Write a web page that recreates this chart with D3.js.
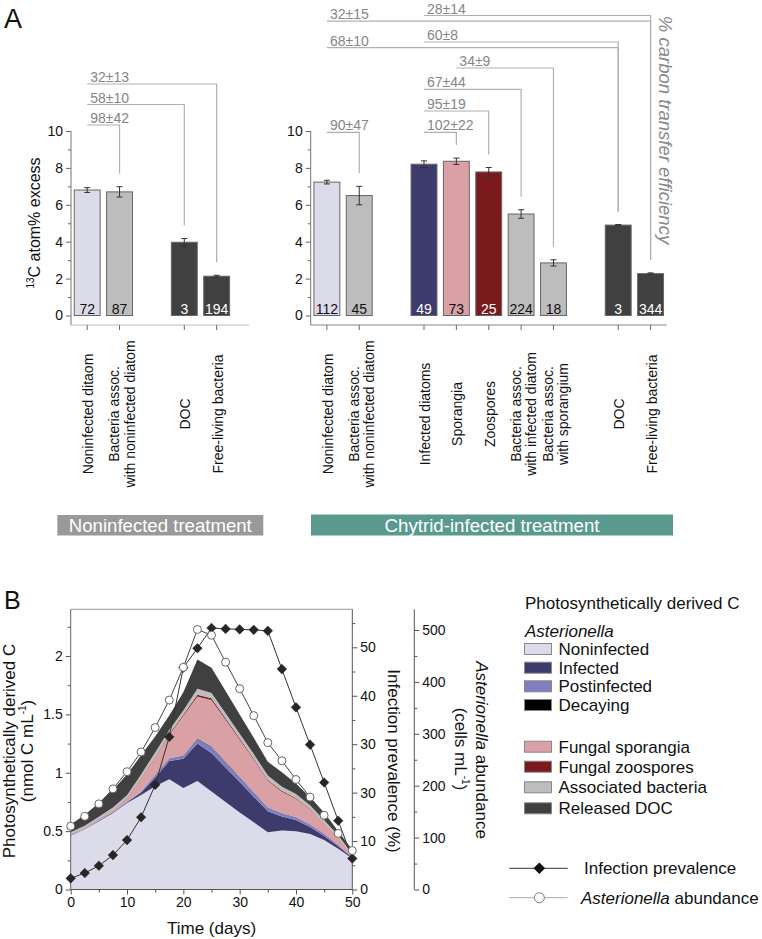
<!DOCTYPE html>
<html><head><meta charset="utf-8">
<script src="https://cdn.jsdelivr.net/npm/d3@7"></script>
<style>body{margin:0;background:#fff}svg{display:block}</style>
</head><body><svg id="c" width="762" height="939"></svg>
<script>
// ================= DATA =================
// Panel A – noninfected treatment
const ctrlCategories = ["Noninfected ditaom", "Bacteria assoc.|with noninfected diatom", "DOC", "Free-living bacteria"];
const ctrlGroups = [0, 0, 1, 1];
const ctrlValues = [6.8, 6.7, 3.97, 2.13];
const ctrlErrors = [0.13, 0.28, 0.2, 0.05];
const ctrlCounts = ["72", "87", "3", "194"];
const ctrlKinds = ["diatom", "bacteria", "doc", "doc"];
const ctrlBracketLabels = ["98±42", "58±10", "32±13"];
const ctrlBracketFrom = [0, 0, 0];
const ctrlBracketTo = [1, 2, 3];
const ctrlBracketTier = [0, 1, 2];

// Panel A – chytrid-infected treatment
const infCategories = ["Noninfected diatom", "Bacteria assoc.|with noninfected diatom", "Infected diatoms", "Sporangia", "Zoospores",
  "Bacteria assoc.|with infected diatom", "Bacteria assoc.|with sporangium", "DOC", "Free-living bacteria"];
const infGroups = [0, 0, 1, 1, 1, 1, 1, 2, 2];
const infValues = [7.23, 6.5, 8.2, 8.36, 7.78, 5.5, 2.85, 4.9, 2.27];
const infErrors = [0.1, 0.5, 0.18, 0.17, 0.24, 0.23, 0.17, 0.03, 0.04];
const infCounts = ["112", "45", "49", "73", "25", "224", "18", "3", "344"];
const infKinds = ["diatom", "bacteria", "infected", "sporangia", "zoospores", "bacteria", "bacteria", "doc", "doc"];
const infBracketLabels = ["90±47", "102±22", "95±19", "67±44", "34±9", "68±10", "60±8", "32±15", "28±14"];
const infBracketFrom = [0, 2, 2, 2, 3, 0, 2, 0, 2];
const infBracketTo = [1, 3, 4, 5, 6, 7, 7, 8, 8];
const infBracketTier = [0, 0, 1, 2, 3, 4, 4, 5, 5];

const aTicks = [0, 2, 4, 6, 8, 10];
const aTickLabels = ["0", "2", "4", "6", "8", "10"];
const aMinorTicks = [1, 3, 5, 7, 9];

// Panel B – time series
const bDays = [0, 2.5, 5, 7.5, 10, 12.5, 15, 17.5, 20, 22.5, 25, 27.5, 30, 32.5, 35, 37.5, 40, 42.5, 45, 47.5, 50];
const bNoninfected = [.46, .515, .585, .655, .74, .81, .885, .945, .87, .93, .84, .75, .66, .575, .49, .505, .50, .475, .424, .35, .265];
const bInfected = [.004, .004, .005, .006, .008, .02, .075, .155, .25, .32, .33, .295, .26, .22, .18, .12, .095, .06, .035, .02, .008];
const bPostinfected = [.003, .003, .003, .004, .005, .01, .02, .02, .025, .04, .05, .045, .04, .035, .03, .025, .025, .02, .016, .01, .005];
const bDecaying = [0, 0, 0, 0, 0, 0, .002, .003, .003, .004, .004, .004, .004, .003, .003, .003, .002, .002, .002, .001, .001];
const bSporangia = [.005, .006, .008, .012, .025, .11, .15, .2, .34, .36, .4, .36, .32, .28, .23, .185, .155, .13, .085, .06, .012];
const bZoospores = [.002, .002, .002, .002, .003, .004, .006, .008, .01, .015, .015, .013, .011, .009, .008, .007, .006, .005, .004, .003, .002];
const bBacteria = [.016, .017, .02, .023, .027, .032, .035, .035, .035, .05, .045, .043, .04, .038, .035, .035, .034, .03, .028, .02, .01];
const bDOC = [.066, .093, .117, .153, .177, .163, .137, .124, .157, .251, .216, .19, .165, .14, .118, .125, .091, .068, .066, .036, .037];
const bPrevalence = [2.3, 3.4, 4.9, 7.1, 10.2, 14.9, 21.6, 31.5, 45.8, 49.8, 54.0, 53.8, 53.7, 53.6, 53.4, 45.5, 37.6, 29.9, 22.1, 14.2, 6.4];
const bAbundance = [122, 141, 165, 194, 227, 265, 312, 365, 428, 501, 490, 438, 387, 335, 283, 248, 212, 178, 143, 108, 75];

const bLayerLabels = ["Noninfected", "Infected", "Postinfected", "Decaying", "Fungal sporangia", "Fungal zoospores", "Associated bacteria", "Released DOC"];
const bXTicks = [0, 10, 20, 30, 40, 50];
const bXTickLabels = ["0", "10", "20", "30", "40", "50"];
const bYTicks = [0, 0.5, 1, 1.5, 2];
const bYTickLabels = ["0", "0.5", "1", "1.5", "2"];
const prevTicks = [0, 10, 20, 30, 40, 50];
const prevTickLabels = ["0", "10", "30", "30", "40", "50"];
const abundTicks = [0, 100, 200, 300, 400, 500];
const abundTickLabels = ["0", "100", "200", "300", "400", "500"];

// ================= STYLE =================
const FONT = '"Liberation Sans", Arial, Helvetica, sans-serif';
const NARROW = '"Liberation Sans Narrow", "Arial Narrow", "Liberation Sans", sans-serif';
const kindFill = {diatom: "#dcdbea", bacteria: "#bdbdbd", doc: "#404040", infected: "#3d3b6c", sporangia: "#d9a0a6", zoospores: "#7a1a1c"};
const kindText = {diatom: "#111", bacteria: "#111", doc: "#fff", infected: "#fff", sporangia: "#111", zoospores: "#fff"};
const layerFill = ["#dcdbea", "#3d3b6c", "#7f7fbf", "#000000", "#d9a0a6", "#7a1a1c", "#bdbdbd", "#404040"];
const annColor = "#858585", bracketColor = "#b0b0b0";

const svg = d3.select("#c").attr("font-family", FONT);

// ================= PANEL A =================
const yA = d3.scaleLinear().domain([0, 10]).range([315.5, 131]);
const axisBaseY = 325;
const slotStep = 32.37;

svg.append("text").attr("x", 4).attr("y", 28).attr("font-size", 27).attr("fill", "#111").text("A");

svg.append("text").attr("transform", "translate(40,223) rotate(-90)").attr("text-anchor", "middle")
  .attr("font-size", 16).attr("fill", "#111")
  .call(t => { t.append("tspan").attr("font-size", 10).attr("dy", -6).text("13"); t.append("tspan").attr("dy", 6).text("C atom% excess"); });

function barPanel(cfg) {
  const n = cfg.cats.length;
  const nSlots = n + cfg.groups[n - 1];
  const x = d3.scaleBand().domain(d3.range(nSlots)).range([cfg.x0, cfg.x0 + nSlots * slotStep]).paddingInner(0.2).paddingOuter(0.1);
  const slot = i => i + cfg.groups[i];
  const cx = i => x(slot(i)) + x.bandwidth() / 2;
  const g = svg.append("g");

  // y axis
  const ya = g.append("g").attr("transform", `translate(${cfg.x0},0)`)
    .call(d3.axisLeft(yA).tickValues(aTicks).tickFormat((d, i) => aTickLabels[i]).tickSize(5).tickPadding(3));
  ya.select(".domain").remove();
  ya.attr("font-family", FONT).attr("font-size", 14).attr("color", "#666");
  ya.selectAll("text").attr("fill", "#111");
  const ym = g.append("g").attr("transform", `translate(${cfg.x0},0)`)
    .call(d3.axisLeft(yA).tickValues(aMinorTicks).tickFormat("").tickSize(3));
  ym.select(".domain").remove(); ym.attr("color", "#666");
  g.append("line").attr("x1", cfg.x0).attr("x2", cfg.x0).attr("y1", yA(10)).attr("y2", axisBaseY).attr("stroke", "#777");
  // x axis line and ticks
  g.append("line").attr("x1", cfg.x0).attr("x2", cfg.axisEnd).attr("y1", axisBaseY).attr("y2", axisBaseY).attr("stroke", cfg.xAxisColor).attr("stroke-width", 1.2);
  g.selectAll(".xt").data(cfg.cats).join("line").attr("x1", (d, i) => cx(i)).attr("x2", (d, i) => cx(i))
    .attr("y1", axisBaseY).attr("y2", axisBaseY + 5).attr("stroke", "#666");

  // bars
  g.selectAll(".bar").data(cfg.vals).join("rect")
    .attr("x", (d, i) => x(slot(i))).attr("width", x.bandwidth())
    .attr("y", d => yA(d)).attr("height", d => yA(0) - yA(d))
    .attr("fill", (d, i) => kindFill[cfg.kinds[i]]).attr("stroke", "#666").attr("stroke-width", 1);
  // error bars
  cfg.vals.forEach((v, i) => {
    const e = cfg.errs[i], c = cx(i);
    g.append("path").attr("d", `M${c},${yA(v + e)}V${yA(v - e)}M${c - 3},${yA(v + e)}H${c + 3}M${c - 3},${yA(v - e)}H${c + 3}`)
      .attr("stroke", "#333").attr("fill", "none").attr("stroke-width", 1);
  });
  // counts
  g.selectAll(".cnt").data(cfg.counts).join("text").attr("x", (d, i) => cx(i)).attr("y", yA(0) - 1.5)
    .attr("text-anchor", "middle").attr("font-size", 14).attr("fill", (d, i) => kindText[cfg.kinds[i]]).text(d => d);
  // category labels
  cfg.cats.forEach((c, i) => {
    const lines = c.split("|");
    lines.forEach((ln, j) => {
      const off = lines.length === 1 ? 6 : (j === 0 ? -0.5 : 15);
      g.append("text").attr("transform", `translate(${cx(i) + off},414) rotate(-90)`).attr("text-anchor", "middle")
        .attr("font-size", 14).attr("fill", "#111").text(ln);
    });
  });
  // brackets
  cfg.bLabels.forEach((lab, k) => {
    const a = cfg.bFrom[k], b = cfg.bTo[k];
    const ly = cfg.tierY(cfg.bTier[k], a);
    const xa = cx(a), xb = cx(b);
    const yEnd = yA(cfg.vals[b] + cfg.errs[b]) - 13;
    g.append("path").attr("d", `M${xa},${ly}H${xb}V${yEnd}`).attr("fill", "none").attr("stroke", bracketColor).attr("stroke-width", 1.2);
    g.append("text").attr("x", xa + 3).attr("y", ly - 2).attr("font-size", 14).attr("fill", annColor).text(lab);
  });
  return {x, cx};
}

const ctrlTierY = [125, 104.5, 84];
barPanel({cats: ctrlCategories, groups: ctrlGroups, vals: ctrlValues, errs: ctrlErrors, counts: ctrlCounts, kinds: ctrlKinds,
  x0: 71, axisEnd: 249, xAxisColor: "#bbb",
  bLabels: ctrlBracketLabels, bFrom: ctrlBracketFrom, bTo: ctrlBracketTo, bTier: ctrlBracketTier,
  tierY: (t) => ctrlTierY[t]});

const infTierY = [132.3, 111, 89.3, 68, 42, 15.5];
barPanel({cats: infCategories, groups: infGroups, vals: infValues, errs: infErrors, counts: infCounts, kinds: infKinds,
  x0: 310.7, axisEnd: 666.7, xAxisColor: "#888",
  bLabels: infBracketLabels, bFrom: infBracketFrom, bTo: infBracketTo, bTier: infBracketTier,
  tierY: (t, from) => infTierY[t] + (t >= 4 && from === 0 ? 5.7 : 0)});

svg.append("text").attr("transform", "translate(658.5,130) rotate(90)").attr("text-anchor", "middle")
  .attr("font-size", 18.5).attr("font-style", "italic").attr("fill", "#888").text("% carbon transfer efficiency");

// treatment boxes
svg.append("rect").attr("x", 57.3).attr("y", 515).attr("width", 206).attr("height", 20.5).attr("fill", "#999");
svg.append("text").attr("x", 160.3).attr("y", 531.7).attr("text-anchor", "middle").attr("font-family", NARROW)
  .attr("font-size", 18.5).attr("fill", "#fff").attr("textLength", 183).attr("lengthAdjust", "spacingAndGlyphs").text("Noninfected treatment");
svg.append("rect").attr("x", 311).attr("y", 514.5).attr("width", 362).attr("height", 21).attr("fill", "#5a9a8e");
svg.append("text").attr("x", 492).attr("y", 531.7).attr("text-anchor", "middle").attr("font-family", NARROW)
  .attr("font-size", 18.5).attr("fill", "#fff").attr("textLength", 215).attr("lengthAdjust", "spacingAndGlyphs").text("Chytrid-infected treatment");

// ================= PANEL B =================
svg.append("text").attr("x", 4).attr("y", 608.5).attr("font-size", 25).attr("fill", "#111").text("B");

const xB = d3.scaleLinear().domain([0, 50]).range([70.7, 352.3]);
const yB = d3.scaleLinear().domain([0, 2.4]).range([889.5, 609.3]);
const yPrev = d3.scaleLinear().domain([0, 50]).range([889.5, 647.3]);
const yAb = d3.scaleLinear().domain([0, 500]).range([889.5, 630]);

const layerSeries = [bNoninfected, bInfected, bPostinfected, bDecaying, bSporangia, bZoospores, bBacteria, bDOC];
const keys = bLayerLabels;
const rows = bDays.map((d, i) => { const r = {day: d}; keys.forEach((k, j) => r[k] = layerSeries[j][i]); return r; });
const stacked = d3.stack().keys(keys)(rows);
const area = d3.area().x(d => xB(d.data.day)).y0(d => yB(d[0])).y1(d => yB(d[1]));
const gB = svg.append("g");
gB.selectAll(".layer").data(stacked).join("path").attr("d", area).attr("fill", (d, i) => layerFill[i]);

// frame
gB.append("line").attr("x1", xB(0)).attr("x2", xB(50)).attr("y1", 609.3).attr("y2", 609.3).attr("stroke", "#aaa").attr("stroke-width", 1.2);

// left axis
const la = gB.append("g").attr("transform", `translate(${xB(0)},0)`)
  .call(d3.axisLeft(yB).tickValues(bYTicks).tickFormat((d, i) => bYTickLabels[i]).tickSize(5).tickPadding(3));
la.select(".domain").remove(); la.attr("font-family", FONT).attr("font-size", 14).attr("color", "#555"); la.selectAll("text").attr("fill", "#111");
const lm = gB.append("g").attr("transform", `translate(${xB(0)},0)`).call(d3.axisLeft(yB).tickValues([0.25, 0.75, 1.25, 1.75, 2.25]).tickFormat("").tickSize(3));
lm.select(".domain").remove(); lm.attr("color", "#555");
gB.append("line").attr("x1", xB(0)).attr("x2", xB(0)).attr("y1", 609.3).attr("y2", 889.5).attr("stroke", "#666");

// bottom axis
const ba = gB.append("g").attr("transform", `translate(0,889.5)`)
  .call(d3.axisBottom(xB).tickValues(bXTicks).tickFormat((d, i) => bXTickLabels[i]).tickSize(5).tickPadding(3));
ba.select(".domain").remove(); ba.attr("font-family", FONT).attr("font-size", 14).attr("color", "#555"); ba.selectAll("text").attr("fill", "#111");
const bm = gB.append("g").attr("transform", `translate(0,889.5)`).call(d3.axisBottom(xB).tickValues([5, 15, 25, 35, 45]).tickFormat("").tickSize(3));
bm.select(".domain").remove(); bm.attr("color", "#555");
gB.append("line").attr("x1", xB(0)).attr("x2", xB(50)).attr("y1", 889.5).attr("y2", 889.5).attr("stroke", "#555");

// prevalence axis
const pa = gB.append("g").attr("transform", `translate(${xB(50)},0)`)
  .call(d3.axisRight(yPrev).tickValues(prevTicks).tickFormat((d, i) => prevTickLabels[i]).tickSize(5).tickPadding(3));
pa.select(".domain").remove(); pa.attr("font-family", FONT).attr("font-size", 14).attr("color", "#555"); pa.selectAll("text").attr("fill", "#111");
const pm = gB.append("g").attr("transform", `translate(${xB(50)},0)`).call(d3.axisRight(yPrev).tickValues([5, 15, 25, 35, 45, 55]).tickFormat("").tickSize(3));
pm.select(".domain").remove(); pm.attr("color", "#555");
gB.append("line").attr("x1", xB(50)).attr("x2", xB(50)).attr("y1", 609.3).attr("y2", 889.5).attr("stroke", "#555");

// abundance axis
const abX = 414.3;
const aa = gB.append("g").attr("transform", `translate(${abX},0)`)
  .call(d3.axisRight(yAb).tickValues(abundTicks).tickFormat((d, i) => abundTickLabels[i]).tickSize(5).tickPadding(3));
aa.select(".domain").remove(); aa.attr("font-family", FONT).attr("font-size", 14).attr("color", "#555"); aa.selectAll("text").attr("fill", "#111");
const am = gB.append("g").attr("transform", `translate(${abX},0)`).call(d3.axisRight(yAb).tickValues([50, 150, 250, 350, 450]).tickFormat("").tickSize(3));
am.select(".domain").remove(); am.attr("color", "#555");
gB.append("line").attr("x1", abX).attr("x2", abX).attr("y1", 609.3).attr("y2", 889.5).attr("stroke", "#555");

// prevalence line + diamonds
const prevPts = bDays.map((d, i) => [xB(d), yPrev(bPrevalence[i])]);
gB.append("path").attr("d", d3.line()(prevPts)).attr("fill", "none").attr("stroke", "#333").attr("stroke-width", 1);
const diamond = d3.symbol().type(d3.symbolSquare).size(46);
gB.selectAll(".dia").data(prevPts).join("path").attr("d", diamond)
  .attr("transform", d => `translate(${d[0]},${d[1]}) rotate(45)`).attr("fill", "#262626").attr("stroke", "#262626").attr("stroke-width", 0.5);

// abundance line + circles
const abPts = bDays.map((d, i) => [xB(d), yAb(bAbundance[i])]);
gB.append("path").attr("d", d3.line()(abPts)).attr("fill", "none").attr("stroke", "#444").attr("stroke-width", 1);
gB.selectAll(".cir").data(abPts).join("circle").attr("cx", d => d[0]).attr("cy", d => d[1]).attr("r", 4)
  .attr("fill", "#fff").attr("stroke", "#666").attr("stroke-width", 1);

// axis titles
svg.append("text").attr("transform", "translate(15,751) rotate(-90)").attr("text-anchor", "middle").attr("font-size", 17).attr("fill", "#111")
  .text("Photosynthetically derived C");
svg.append("text").attr("transform", "translate(32.5,751) rotate(-90)").attr("text-anchor", "middle").attr("font-size", 17).attr("fill", "#111")
  .call(t => { t.append("tspan").text("(nmol C mL"); t.append("tspan").attr("font-size", 10).attr("dy", -7).text("-1"); t.append("tspan").attr("dy", 7).text(")"); });
svg.append("text").attr("transform", "translate(388,761) rotate(90)").attr("text-anchor", "middle").attr("font-size", 17).attr("fill", "#111")
  .text("Infection prevalence (%)");
svg.append("text").attr("transform", "translate(476,750) rotate(90)").attr("text-anchor", "middle").attr("font-size", 17).attr("fill", "#111")
  .call(t => { t.append("tspan").attr("font-style", "italic").text("Asterionella"); t.append("tspan").text(" abundance"); });
svg.append("text").attr("transform", "translate(455,749) rotate(90)").attr("text-anchor", "middle").attr("font-size", 17).attr("fill", "#111")
  .call(t => { t.append("tspan").text("(cells mL"); t.append("tspan").attr("font-size", 10).attr("dy", -7).text("-1"); t.append("tspan").attr("dy", 7).text(")"); });
svg.append("text").attr("x", xB(25)).attr("y", 934).attr("text-anchor", "middle").attr("font-size", 17).attr("fill", "#111").text("Time (days)");

// legend
const lg = svg.append("g").attr("font-size", 17).attr("fill", "#111");
lg.append("text").attr("x", 525).attr("y", 609).text("Photosynthetically derived C");
lg.append("text").attr("x", 525).attr("y", 636.5).attr("font-style", "italic").text("Asterionella");
const rowY = [649, 667.7, 686.3, 705, 746.7, 766.7, 787.3, 808.3];
bLayerLabels.forEach((lab, i) => {
  lg.append("rect").attr("x", 524.5).attr("y", rowY[i] - 5.5).attr("width", 27).attr("height", 11)
    .attr("fill", layerFill[i]).attr("stroke", "#888").attr("stroke-width", 1);
  lg.append("text").attr("x", 558.5).attr("y", rowY[i] + 6).text(lab);
});
// line legend
lg.append("line").attr("x1", 509.3).attr("x2", 567.7).attr("y1", 868.3).attr("y2", 868.3).attr("stroke", "#333");
lg.append("path").attr("d", d3.symbol().type(d3.symbolSquare).size(66)).attr("transform", "translate(539.3,868.3) rotate(45)").attr("fill", "#111");
lg.append("text").attr("x", 584).attr("y", 874.3).text("Infection prevalence");
lg.append("line").attr("x1", 509.3).attr("x2", 567.7).attr("y1", 897.7).attr("y2", 897.7).attr("stroke", "#aaa");
lg.append("circle").attr("cx", 539.3).attr("cy", 897.7).attr("r", 5).attr("fill", "#fff").attr("stroke", "#777");
lg.append("text").attr("x", 581).attr("y", 903.7)
  .call(t => { t.append("tspan").attr("font-style", "italic").text("Asterionella"); t.append("tspan").text(" abundance"); });
</script></body></html>
